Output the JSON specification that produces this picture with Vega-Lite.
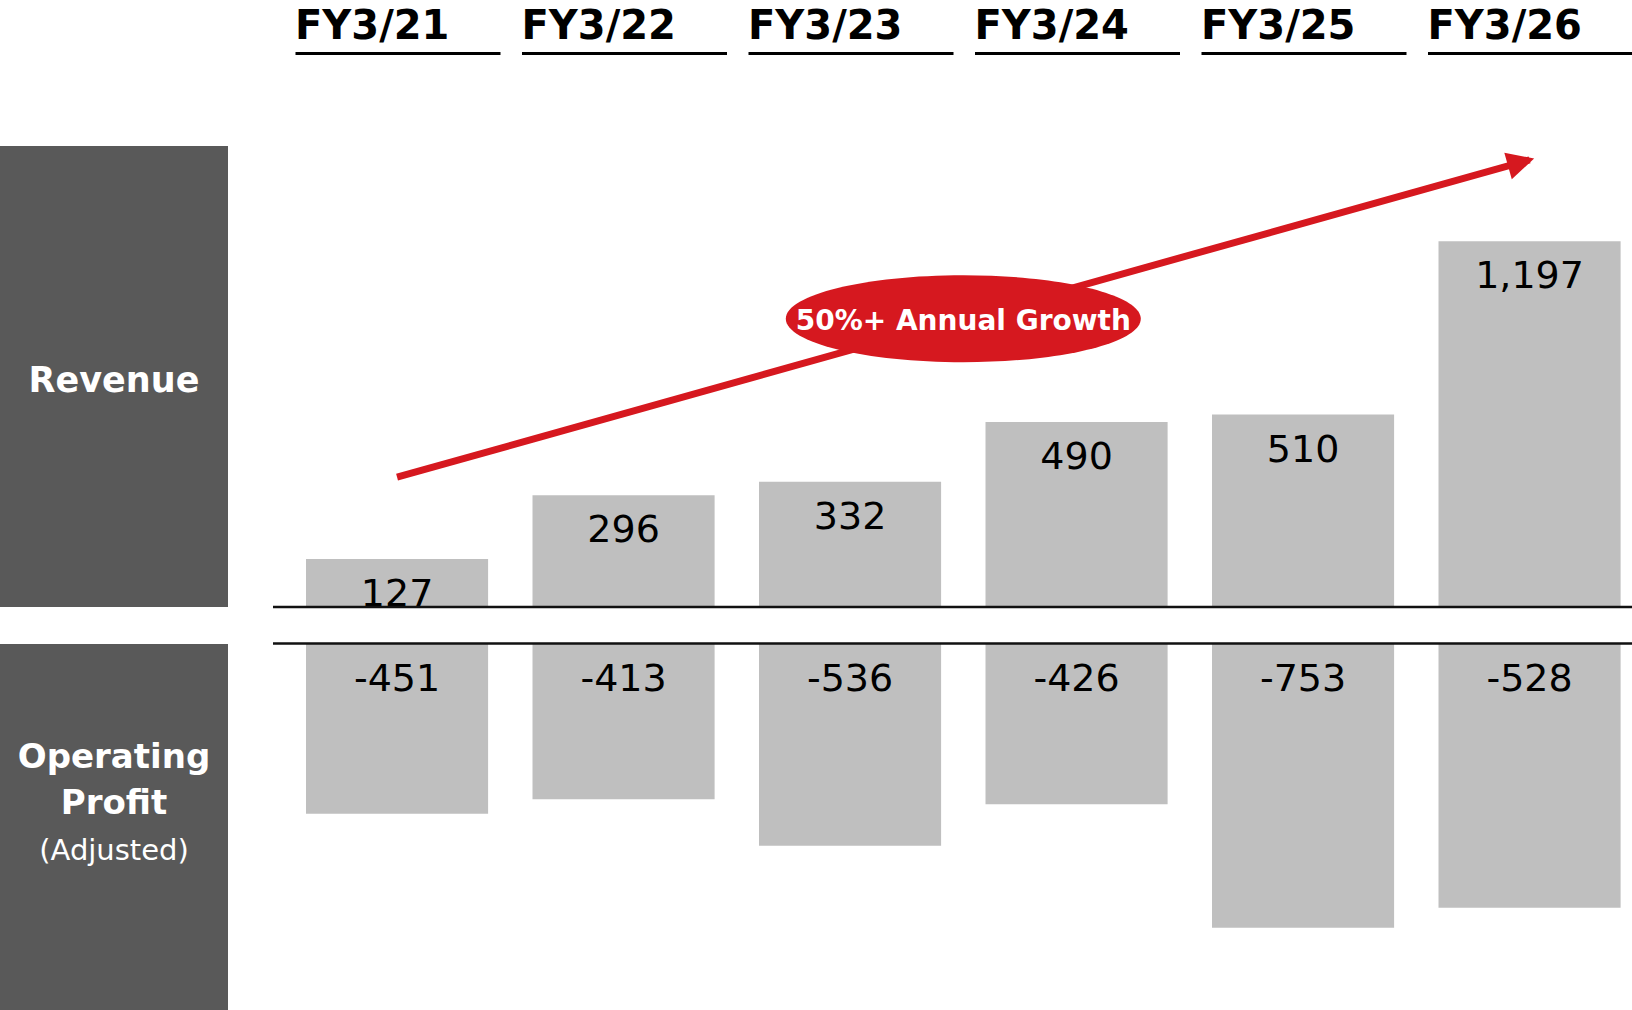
{
  "$schema": "https://vega.github.io/schema/vega-lite/v6.json",
  "width": 1632,
  "height": 957,
  "padding": {"top": 53, "left": 0, "right": 0, "bottom": 0},
  "autosize": {"type": "none"},
  "background": "white",
  "config": {
    "view": {"stroke": null},
    "font": "DejaVu Sans",
    "locale": {"number": {"decimal": ".", "thousands": ",", "grouping": [3], "currency": ["$", ""], "minus": "-"}}
  },
  "datasets": {
    "results": [
      {"fy": "FY3/21", "metric": "Revenue", "value": 127, "bar": 127},
      {"fy": "FY3/22", "metric": "Revenue", "value": 296, "bar": 296},
      {"fy": "FY3/23", "metric": "Revenue", "value": 332, "bar": 332},
      {"fy": "FY3/24", "metric": "Revenue", "value": 490, "bar": 490},
      {"fy": "FY3/25", "metric": "Revenue", "value": 510, "bar": 510},
      {"fy": "FY3/26", "metric": "Revenue", "value": 1197, "bar": 969},
      {"fy": "FY3/21", "metric": "Operating Profit", "value": -451, "bar": -451},
      {"fy": "FY3/22", "metric": "Operating Profit", "value": -413, "bar": -413},
      {"fy": "FY3/23", "metric": "Operating Profit", "value": -536, "bar": -536},
      {"fy": "FY3/24", "metric": "Operating Profit", "value": -426, "bar": -426},
      {"fy": "FY3/25", "metric": "Operating Profit", "value": -753, "bar": -753},
      {"fy": "FY3/26", "metric": "Operating Profit", "value": -528, "bar": -700}
    ],
    "panels": [
      {"metric": "Revenue", "title": "Revenue", "note": ""},
      {"metric": "Operating Profit", "title": "Operating\nProfit", "note": "(Adjusted)"}
    ],
    "trend": [
      {"fy": "FY3/21", "level": 344},
      {"fy": "FY3/26", "level": 1185}
    ],
    "callout": [
      {"fy": "FY3/24", "level": 764, "text": "50%+ Annual Growth"}
    ]
  },
  "layer": [
    {
      "data": {"name": "panels"},
      "encoding": {
        "x": {"datum": "box", "type": "nominal", "scale": {"type": "band", "domain": ["box"], "range": [0, 228], "paddingInner": 0, "paddingOuter": 0}, "axis": null},
        "y": {"field": "metric", "type": "nominal", "scale": {"type": "band", "domain": ["Revenue", "Operating Profit"], "range": [93, 1052], "paddingInner": 0.0743, "paddingOuter": 0}, "axis": null}
      },
      "layer": [
        {"mark": {"type": "rect", "color": "#595959"}},
        {
          "transform": [{"filter": "datum.metric === 'Revenue'"}],
          "mark": {"type": "text", "color": "white", "fontSize": 35, "fontWeight": "bold", "align": "center", "baseline": "alphabetic", "dy": 246},
          "encoding": {
            "y": {"field": "metric", "type": "nominal", "bandPosition": 0},
            "text": {"field": "title"}
          }
        },
        {
          "transform": [{"filter": "datum.metric === 'Operating Profit'"}],
          "mark": {"type": "text", "color": "white", "fontSize": 34, "fontWeight": "bold", "align": "center", "baseline": "alphabetic", "dy": 124, "lineBreak": "\n", "lineHeight": 46},
          "encoding": {
            "y": {"field": "metric", "type": "nominal", "bandPosition": 0},
            "text": {"field": "title"}
          }
        },
        {
          "transform": [{"filter": "datum.metric === 'Operating Profit'"}],
          "mark": {"type": "text", "color": "white", "fontSize": 29, "align": "center", "baseline": "alphabetic", "dy": 216},
          "encoding": {
            "y": {"field": "metric", "type": "nominal", "bandPosition": 0},
            "text": {"field": "note"}
          }
        }
      ]
    },
    {
      "encoding": {
        "x": {
          "field": "fy", "type": "nominal",
          "scale": {"type": "band", "domain": ["FY3/21", "FY3/22", "FY3/23", "FY3/24", "FY3/25", "FY3/26"], "range": [283.8, 1642.8], "paddingInner": 0.196, "paddingOuter": 0.098},
          "axis": {
            "orient": "top", "title": null, "grid": false,
            "domain": true, "domainColor": "black", "domainWidth": 3, "domainDash": [205, 21.5], "domainDashOffset": 215.3,
            "ticks": false, "tickSize": 0,
            "labelAngle": 0,
            "labelFont": "DejaVu Sans", "labelFontSize": 40, "labelFontWeight": "bold", "labelColor": "black",
            "labelAlign": "left", "labelBaseline": "alphabetic", "labelOffset": -102, "labelPadding": 15,
            "labelOverlap": false, "labelBound": false, "labelFlush": false, "labelLimit": 0
          }
        }
      },
      "layer": [
        {
          "data": {"name": "results"},
          "transform": [{"filter": "datum.metric === 'Revenue'"}],
          "mark": {"type": "bar", "color": "#BFBFBF"},
          "encoding": {
            "y": {"field": "bar", "type": "quantitative", "scale": {"domain": [0, 1200], "range": [554, 101.2], "nice": false, "zero": false}, "axis": null},
            "y2": {"datum": 0}
          }
        },
        {
          "data": {"name": "results"},
          "transform": [{"filter": "datum.metric === 'Revenue'"}],
          "mark": {"type": "text", "color": "black", "fontSize": 38, "align": "center", "baseline": "alphabetic", "dy": 47},
          "encoding": {
            "y": {"field": "bar", "type": "quantitative", "scale": {"domain": [0, 1200], "range": [554, 101.2], "nice": false, "zero": false}, "axis": null},
            "text": {"field": "value", "type": "quantitative", "format": ","}
          }
        },
        {
          "data": {"name": "trend"},
          "mark": {"type": "line", "color": "#D6181F", "strokeWidth": 7, "strokeCap": "butt"},
          "encoding": {
            "y": {"field": "level", "type": "quantitative", "scale": {"domain": [0, 1200], "range": [554, 101.2], "nice": false, "zero": false}, "axis": null}
          }
        },
        {
          "data": {"name": "trend"},
          "transform": [{"filter": "datum.fy === 'FY3/26'"}],
          "mark": {"type": "point", "shape": "M 0.35 0 L -1.62 -1 L -1.62 1 Z", "size": 760, "angle": -15.7, "filled": true, "opacity": 1, "color": "#D6181F", "strokeWidth": 0},
          "encoding": {
            "y": {"field": "level", "type": "quantitative", "scale": {"domain": [0, 1200], "range": [554, 101.2], "nice": false, "zero": false}, "axis": null}
          }
        },
        {
          "data": {"name": "callout"},
          "mark": {"type": "point", "shape": "M -1 0 C -1 -0.1353 -0.5523 -0.245 0 -0.245 C 0.5523 -0.245 1 -0.1353 1 0 C 1 0.1353 0.5523 0.245 0 0.245 C -0.5523 0.245 -1 0.1353 -1 0 Z", "size": 126025, "filled": true, "opacity": 1, "color": "#D6181F", "strokeWidth": 0, "xOffset": -113.25},
          "encoding": {
            "y": {"field": "level", "type": "quantitative", "scale": {"domain": [0, 1200], "range": [554, 101.2], "nice": false, "zero": false}, "axis": null}
          }
        },
        {
          "data": {"name": "callout"},
          "mark": {"type": "text", "color": "white", "fontSize": 28, "fontWeight": "bold", "align": "center", "baseline": "alphabetic", "dy": 11, "xOffset": -113.25},
          "encoding": {
            "y": {"field": "level", "type": "quantitative", "scale": {"domain": [0, 1200], "range": [554, 101.2], "nice": false, "zero": false}, "axis": null},
            "text": {"field": "text"}
          }
        },
        {
          "data": {"name": "trend"},
          "transform": [{"filter": "datum.fy === 'FY3/21'"}],
          "mark": {"type": "rule", "color": "#111111", "strokeWidth": 2.3, "xOffset": -33, "x2Offset": 20},
          "encoding": {
            "x": {"datum": "FY3/21", "type": "nominal", "bandPosition": 0},
            "x2": {"datum": "FY3/26", "bandPosition": 1},
            "y": {"datum": 0, "type": "quantitative", "scale": {"domain": [0, 1200], "range": [554, 101.2], "nice": false, "zero": false}, "axis": null}
          }
        }
      ]
    },
    {
      "encoding": {
        "x": {
          "field": "fy", "type": "nominal",
          "scale": {"type": "band", "domain": ["FY3/21", "FY3/22", "FY3/23", "FY3/24", "FY3/25", "FY3/26"], "range": [283.8, 1642.8], "paddingInner": 0.196, "paddingOuter": 0.098},
          "axis": null
        }
      },
      "layer": [
        {
          "data": {"name": "results"},
          "transform": [{"filter": "datum.metric === 'Operating Profit'"}],
          "mark": {"type": "bar", "color": "#BFBFBF"},
          "encoding": {
            "y": {"field": "bar", "type": "quantitative", "scale": {"domain": [-800, 0], "range": [892.4, 590.5], "nice": false, "zero": false}, "axis": null},
            "y2": {"datum": 0}
          }
        },
        {
          "data": {"name": "results"},
          "transform": [{"filter": "datum.metric === 'Operating Profit'"}],
          "mark": {"type": "text", "color": "black", "fontSize": 38, "align": "center", "baseline": "alphabetic", "dy": 47.5},
          "encoding": {
            "y": {"datum": 0, "type": "quantitative", "scale": {"domain": [-800, 0], "range": [892.4, 590.5], "nice": false, "zero": false}, "axis": null},
            "text": {"field": "value", "type": "quantitative", "format": ","}
          }
        },
        {
          "data": {"name": "trend"},
          "transform": [{"filter": "datum.fy === 'FY3/21'"}],
          "mark": {"type": "rule", "color": "#111111", "strokeWidth": 2.3, "xOffset": -33, "x2Offset": 20},
          "encoding": {
            "x": {"datum": "FY3/21", "type": "nominal", "bandPosition": 0},
            "x2": {"datum": "FY3/26", "bandPosition": 1},
            "y": {"datum": 0, "type": "quantitative", "scale": {"domain": [-800, 0], "range": [892.4, 590.5], "nice": false, "zero": false}, "axis": null}
          }
        }
      ]
    }
  ],
  "resolve": {"scale": {"x": "independent", "y": "independent"}, "axis": {"x": "independent", "y": "independent"}}
}
